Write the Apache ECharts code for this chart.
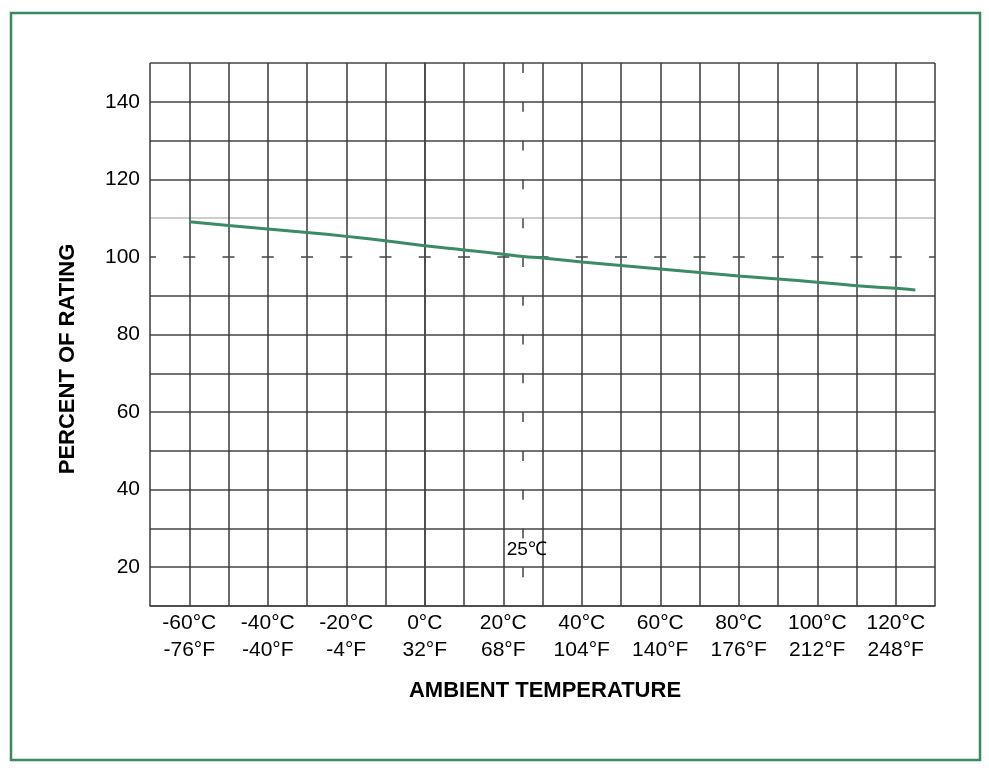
<!DOCTYPE html>
<html><head><meta charset="utf-8">
<script src="https://cdn.jsdelivr.net/npm/echarts@6/dist/echarts.min.js"></script>
<style>html,body{margin:0;padding:0;background:#fff}#c{width:989px;height:768px}</style>
</head><body><div id="c"></div>
<script>
const temperatures = [-60,-50,-40,-30,-20,-10,0,10,20,25,30,40,50,60,70,80,90,100,110,120,125];
const ratingPercent = [109.1,108.1,107.2,106.3,105.3,104.2,102.9,101.8,100.7,100.1,99.7,98.7,97.8,96.9,96.0,95.1,94.3,93.5,92.6,91.9,91.5];
const xTickValues = [-60,-40,-20,0,20,40,60,80,100,120];
const xTickLabels = ['-60°C\n-76°F','-40°C\n-40°F','-20°C\n-4°F','0°C\n32°F','20°C\n68°F','40°C\n104°F','60°C\n140°F','80°C\n176°F','100°C\n212°F','120°C\n248°F'];
const yTickValues = [20,40,60,80,100,120,140];
const refTemp = 25;
const refTempLabel = '25℃';
const refRating = 100;

const chart = echarts.init(document.getElementById('c'), null, {renderer:'canvas'});
const hColors = [];
for (let v = 10; v <= 150; v += 10) {
  hColors.push(v === 100 ? 'rgba(0,0,0,0)' : (v === 110 ? '#bdbdbd' : '#444'));
}
chart.setOption({
  animation: false,
  backgroundColor: '#fff',
  grid: {left:150, right:54, top:63, bottom:162},
  xAxis: {
    type:'value', min:-70, max:130, interval:10,
    axisLine:{show:true, lineStyle:{color:'#444', width:1.5}},
    axisTick:{show:false},
    splitLine:{show:true, lineStyle:{color:'#3a3a3a', width:1.5}},
    axisLabel:{
      margin:4, fontSize:21, lineHeight:27, color:'#000', fontFamily:'Liberation Sans, Arial, sans-serif',
      showMinLabel:false, showMaxLabel:false,
      formatter: v => { const i = xTickValues.indexOf(v); return i >= 0 ? xTickLabels[i] : ''; }
    }
  },
  yAxis: {
    type:'value', min:10, max:150, interval:10,
    axisLine:{show:true, lineStyle:{color:'#444', width:1.5}},
    axisTick:{show:false},
    splitLine:{show:true, lineStyle:{color:hColors, width:1.5}},
    axisLabel:{
      margin:10, fontSize:21, color:'#000', fontFamily:'Liberation Sans, Arial, sans-serif',
      formatter: v => yTickValues.indexOf(v) >= 0 ? String(v) : ''
    }
  },
  graphic: [
    {type:'rect', shape:{x:11, y:13, width:969, height:747}, style:{fill:'none', stroke:'#3a8a60', lineWidth:2.5}, z:100},
    {type:'text', x:68, y:359, rotation:Math.PI/2,
      style:{text:'PERCENT OF RATING', font:'bold 22px "Liberation Sans", Arial, sans-serif', fill:'#000', align:'center', verticalAlign:'middle'}},
    {type:'text', x:545, y:691,
      style:{text:'AMBIENT TEMPERATURE', font:'bold 22px "Liberation Sans", Arial, sans-serif', fill:'#000', align:'center', verticalAlign:'middle'}}
  ],
  series: [{
    type:'line',
    data: temperatures.map((t,i) => [t, ratingPercent[i]]),
    smooth:true, showSymbol:false, symbol:'none',
    lineStyle:{color:'#3b8b65', width:3},
    z:5,
    markLine:{
      silent:true, symbol:['none','none'], animation:false,
      label:{show:false},
      data:[
        [{coord:[-70, refRating], lineStyle:{color:'#444', width:1.5, type:[12,27.25], dashOffset:6}}, {coord:[130, refRating]}],
        [{coord:[refTemp, 150], lineStyle:{color:'#444', width:1.5, type:[10,28.79], dashOffset:0}}, {coord:[refTemp, 10]}]
      ]
    },
    markPoint:{
      silent:true, symbol:'circle', symbolSize:0,
      data:[{coord:[refTemp + 1, 24.5], label:{show:true, formatter:refTempLabel, position:'inside', color:'#000', fontSize:19, fontFamily:'Liberation Sans, Arial, sans-serif'}}]
    }
  }]
});
</script></body></html>
